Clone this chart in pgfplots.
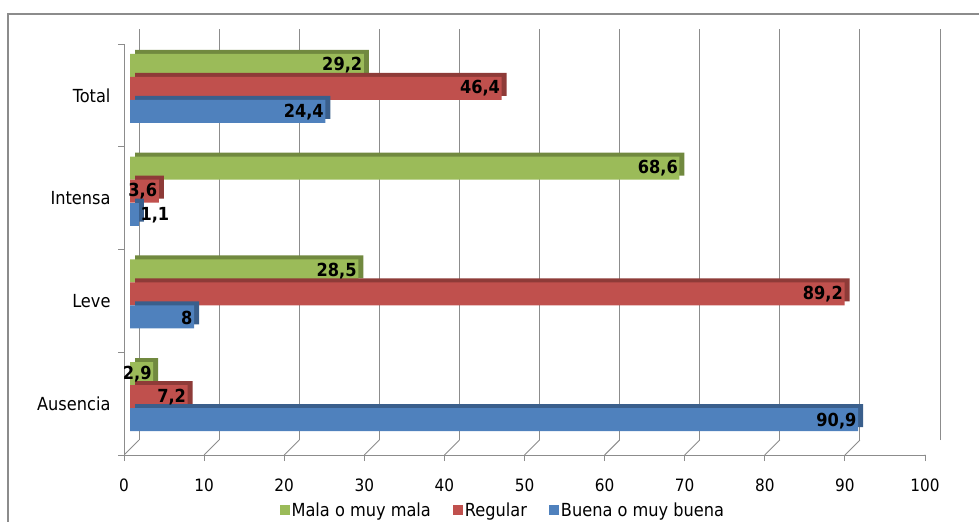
\documentclass[border=0pt]{standalone}
\usepackage{fontspec}
\setmainfont{DejaVu Sans Condensed}
\usepackage{pgfplots}
\pgfplotsset{compat=1.18}
\definecolor{cG}{HTML}{9BBB59}
\definecolor{cGd}{HTML}{71893F}
\definecolor{cR}{HTML}{C0504D}
\definecolor{cRd}{HTML}{8E3B38}
\definecolor{cB}{HTML}{4F81BD}
\definecolor{cBd}{HTML}{3A5F8C}
\definecolor{gridc}{HTML}{8C8C8C}
\begin{document}
\begin{tikzpicture}[x=1bp,y=1bp]
\clip (0,0) rectangle (979,-522);
\draw[gridc, line width=1.5bp] (8,-14) rectangle (1000,-540);
\begin{axis}[
  at={(124bp,-455bp)}, anchor=south west,
  scale only axis, width=801bp, height=411bp,
  xmin=0, xmax=100, ymin=-0.5, ymax=3.5,
  axis x line*=bottom, axis y line*=left,
  axis line style={gridc, line width=0.9bp, -},
  /pgf/number format/assume math mode=true,
  xtick={0,10,...,100},
  ytick={-0.5,0.5,1.5,2.5,3.5}, yticklabels={},
  extra y ticks={0,1,2,3},
  extra y tick labels={Ausencia,Leve,Intensa,Total},
  extra y tick style={major tick length=0bp},
  tick align=outside,
  major tick length=6bp,
  tick style={gridc, line width=0.9bp},
  xmajorgrids,
  major x grid style={gridc, line width=0.9bp, xshift=15bp, yshift=15bp},
  xticklabel style={font=\fontsize{17bp}{19bp}\selectfont, yshift=-14bp},
  yticklabel style={font=\fontsize{18bp}{20bp}\selectfont, xshift=-10bp},
  bar width=23bp,
  every node near coord/.append style={anchor=east, font=\fontsize{18bp}{20bp}\selectfont\bfseries, text=black, inner sep=1.5bp},
  nodes near coords={\pgfmathprintnumber[use comma, fixed, precision=1, assume math mode=true]{\pgfplotspointmeta}},
  legend columns=-1,
  legend style={at={(0.473,-0.134)}, anchor=center, draw=none, fill=none,
    font=\fontsize{18bp}{20bp}\selectfont,
    /tikz/every even column/.append style={column sep=20bp},
    inner xsep=0bp},
]
\pgfplotsinvokeforeach{0,10,...,100}{
  \draw[gridc, line width=0.9bp] (axis cs:#1,-0.5) -- ++(15bp,15bp);
}
\draw[gridc, line width=0.9bp] (axis cs:0,3.5) -- ++(15bp,15bp);
% green
\addplot[xbar, bar shift=34bp, fill=cGd, draw=none, xshift=11bp, forget plot, nodes near coords={}] coordinates {(2.9,0) (28.5,1) (68.6,2) (29.2,3)};
\addplot[xbar, bar shift=30bp, fill=cG, draw=none, xshift=6bp, point meta=x,
  every node near coord/.append style={yshift=30bp},
  legend image code/.code={\fill[cG] (0bp,-5bp) rectangle (10bp,5bp);}] coordinates {(2.9,0) (28.5,1) (68.6,2) (29.2,3)};
\addlegendentry{Mala o muy mala}
% red
\addplot[xbar, bar shift=11bp, fill=cRd, draw=none, xshift=11bp, forget plot, nodes near coords={}] coordinates {(7.2,0) (89.2,1) (3.6,2) (46.4,3)};
\addplot[xbar, bar shift=7bp, fill=cR, draw=none, xshift=6bp, point meta=x,
  every node near coord/.append style={yshift=7bp},
  legend image code/.code={\fill[cR] (0bp,-5bp) rectangle (10bp,5bp);}] coordinates {(7.2,0) (89.2,1) (3.6,2) (46.4,3)};
\addlegendentry{Regular}
% blue
\addplot[xbar, bar shift=-12bp, fill=cBd, draw=none, xshift=11bp, forget plot, nodes near coords={}] coordinates {(90.9,0) (8,1) (1.1,2) (24.4,3)};
\addplot[xbar, bar shift=-16bp, fill=cB, draw=none, xshift=6bp, point meta=x,
  every node near coord/.append style={yshift=-17bp},
  legend image code/.code={\fill[cB] (0bp,-5bp) rectangle (10bp,5bp);}] coordinates {(90.9,0) (8,1) (24.4,3)};
\addlegendentry{Buena o muy buena}
\addplot[xbar, bar shift=-16bp, fill=cB, draw=none, xshift=6bp, point meta=x, forget plot,
  every node near coord/.append style={yshift=-17bp, anchor=west}] coordinates {(1.1,2)};
\end{axis}
\end{tikzpicture}
\end{document}
